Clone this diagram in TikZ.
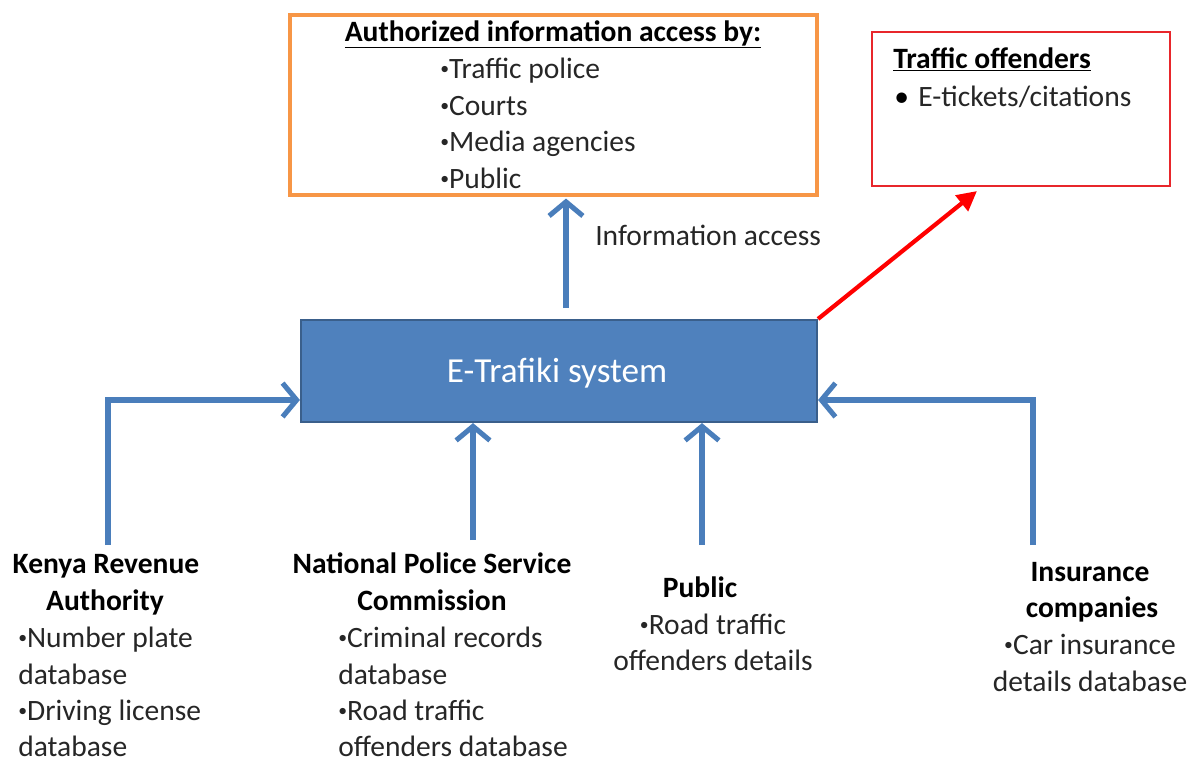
\documentclass[tikz,border=0pt]{standalone}
\usepackage{fontspec}
\usepackage{graphicx}
\setmainfont{Carlito}
\usetikzlibrary{arrows.meta}
\definecolor{sysfill}{HTML}{4F81BD}
\definecolor{sysdraw}{HTML}{3A5F8B}
\definecolor{arrblue}{HTML}{4A7EBB}
\definecolor{orangebox}{HTML}{F79646}
\definecolor{redbox}{HTML}{E8262B}
\definecolor{txtgray}{HTML}{262626}
\newcommand\sbul{\raisebox{0.13em}{\scalebox{0.6}{•}}}
\tikzset{
  txt/.style={font=\fontsize{21}{24}\selectfont, text=txtgray, inner sep=0pt, anchor=base west},
  txtc/.style={txt, anchor=base},
  hd/.style={font=\fontsize{21}{24}\selectfont\bfseries, text=black, inner sep=0pt, anchor=base},
  barb/.style={draw=arrblue, line width=3.6pt, line join=miter,
    -{Straight Barb[length=10pt, width=24pt, line width=3.6pt]}},
}
\begin{document}
\begin{tikzpicture}[x=0.025cm, y=-0.025cm]
\useasboundingbox (0,0) rectangle (1193,764);
% boxes
\node[draw=orangebox, line width=2.2pt, minimum width=527*0.025cm, minimum height=180*0.025cm, inner sep=0pt] (auth) at (553.5,105) {};
\node[draw=redbox, line width=1.5pt, minimum width=298*0.025cm, minimum height=154*0.025cm, inner sep=0pt] (off) at (1021,109) {};
\node[draw=sysdraw, fill=sysfill, line width=1.5pt, minimum width=516*0.025cm, minimum height=102*0.025cm, inner sep=0pt] (sys) at (559,371) {};
\node[font=\fontsize{25}{28}\selectfont, text=white, inner sep=0pt, anchor=base] (systxt) at (557,382) {E-Trafiki system};
% authorized box text
\node[hd] (authhd) at (553,41) {\underline{Authorized information access by:}};
\node[txt] (a1) at (440,78) {\sbul Traffic police};
\node[txt] (a2) at (440,115) {\sbul Courts};
\node[txt] (a3) at (440,151) {\sbul Media agencies};
\node[txt] (a4) at (440,188) {\sbul Public};
% traffic offenders text
\node[hd, anchor=base west] (offhd) at (893,68) {\underline{Traffic offenders}};
\node[txt, text=black] (o0) at (894,106) {•};
\node[txt] (o1) at (918,106) {E-tickets/citations};
% info label
\node[txt] (info) at (595,245) {Information access};
% KRA
\node[hd] (k1) at (106,573) {Kenya Revenue};
\node[hd] (k2) at (105,610) {Authority};
\node[txt] (k3) at (18,647) {\sbul Number plate};
\node[txt] (k4) at (18,684) {database};
\node[txt] (k5) at (18,720) {\sbul Driving license};
\node[txt] (k6) at (18,756) {database};
% NPSC
\node[hd] (n1) at (432,573) {National Police Service};
\node[hd] (n2) at (432,610) {Commission};
\node[txt] (n3) at (338,647) {\sbul Criminal records};
\node[txt] (n4) at (338,684) {database};
\node[txt] (n5) at (338,720) {\sbul Road traffic};
\node[txt] (n6) at (338,756) {offenders database};
% Public
\node[hd] (p1) at (700,597) {Public};
\node[txtc] (p2) at (713,634) {\sbul Road traffic};
\node[txtc] (p3) at (713,670) {offenders details};
% Insurance
\node[hd] (i1) at (1090,581) {Insurance};
\node[hd] (i2) at (1092,617) {companies};
\node[txtc] (i3) at (1090,654) {\sbul Car insurance};
\node[txtc] (i4) at (1090,691) {details database};
% arrow start coordinates
\coordinate (kraTop) at (108,545);
\coordinate (npscTop) at (473,540);
\coordinate (pubTop) at (702,545);
\coordinate (insTop) at (1033,545);
\coordinate (infoStart) at (566,308);
% connectors
\draw[barb] (kraTop) |- ([yshift=-29*0.025cm]sys.west);
\draw[barb] (insTop) |- ([yshift=-29*0.025cm]sys.east);
\draw[barb] (npscTop) -- (npscTop |- sys.south);
\draw[barb] (pubTop) -- (pubTop |- sys.south);
\draw[barb] (infoStart) -- ([yshift=-2*0.025cm]infoStart |- auth.south);
\draw[red, line width=3pt, -{Triangle[length=14pt, width=14pt]}] (sys.north east) -- ([xshift=106*0.025cm, yshift=-4*0.025cm]off.south west);
\end{tikzpicture}
\end{document}
